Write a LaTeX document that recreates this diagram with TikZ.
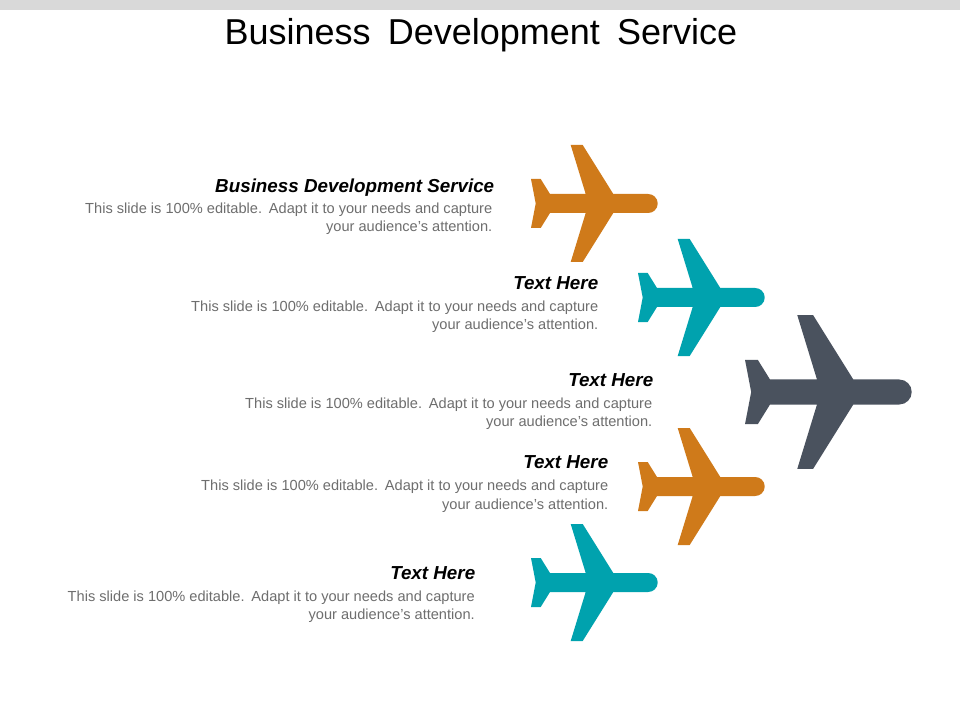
\documentclass[tikz,border=0pt]{standalone}
\usepackage{fontspec}
\setmainfont{Liberation Sans}
\definecolor{planeorange}{HTML}{CF7A1A}
\definecolor{planeteal}{HTML}{00A2AE}
\definecolor{planeslate}{HTML}{4A525E}
\definecolor{bodygray}{HTML}{6E6E6E}
\tikzset{
  airplane/.pic={
    \fill[pic actions] (0,-24.5) -- (9.7,-24.5) -- (19,-9.5) -- (54.7,-9.5) -- (39.7,-58.5) -- (51.7,-58.5)
      -- (82.3,-9.5) -- (117.2,-9.5) arc[start angle=-90,end angle=90,radius=9.5]
      -- (82.3,9.5) -- (51.7,58.5) -- (39.7,58.5) -- (54.7,9.5) -- (19,9.5) -- (9.7,24.5) -- (0,24.5)
      -- (4.7,0) -- cycle;
  },
  headtext/.style={anchor=base east,inner sep=0pt,font=\fontsize{14.1pt}{16pt}\selectfont\bfseries\itshape,text=black},
  bodytext/.style={anchor=base east,inner sep=0pt,font=\fontsize{10.95pt}{13pt}\selectfont,text=bodygray},
  titletext/.style={anchor=base,inner sep=0pt,font=\fontsize{27pt}{32pt}\selectfont,text=black}
}
\newcommand{\bodyone}{This slide is 100\% editable.\hspace{0.1em} Adapt it to your needs and capture}
\newcommand{\bodytwo}{your audience's attention.}
\begin{document}
\begin{tikzpicture}[x=0.75pt,y=-0.75pt]
\useasboundingbox (0,0) rectangle (960,720);
\fill[white] (0,0) rectangle (960,720);
\fill[black!15] (0,0) rectangle (960,10);
\node[titletext] (title) at (481,45) {Business\hspace{0.2em} Development\hspace{0.2em} Service};

\pic[fill=planeorange] at (531,203.5) {airplane};
\pic[fill=planeteal] at (638,297.5) {airplane};
\pic[fill=planeslate,scale=1.316] at (745,392) {airplane};
\pic[fill=planeorange] at (638,486.5) {airplane};
\pic[fill=planeteal] at (531,582.5) {airplane};

\node[headtext] (h1) at (494.5,192.5) {Business Development Service};
\node[bodytext] (b1a) at (492.5,214) {\bodyone};
\node[bodytext] (b1b) at (492.5,232) {\bodytwo};

\node[headtext] (h2) at (598.5,289.5) {Text Here};
\node[bodytext] (b2a) at (598.5,311) {\bodyone};
\node[bodytext] (b2b) at (598.5,329.5) {\bodytwo};

\node[headtext] (h3) at (653.5,386) {Text Here};
\node[bodytext] (b3a) at (652.5,408) {\bodyone};
\node[bodytext] (b3b) at (652.5,426) {\bodytwo};

\node[headtext] (h4) at (608.5,468) {Text Here};
\node[bodytext] (b4a) at (608.5,490) {\bodyone};
\node[bodytext] (b4b) at (608.5,509) {\bodytwo};

\node[headtext] (h5) at (475.5,579) {Text Here};
\node[bodytext] (b5a) at (475,601) {\bodyone};
\node[bodytext] (b5b) at (475,619) {\bodytwo};
\end{tikzpicture}
\end{document}
